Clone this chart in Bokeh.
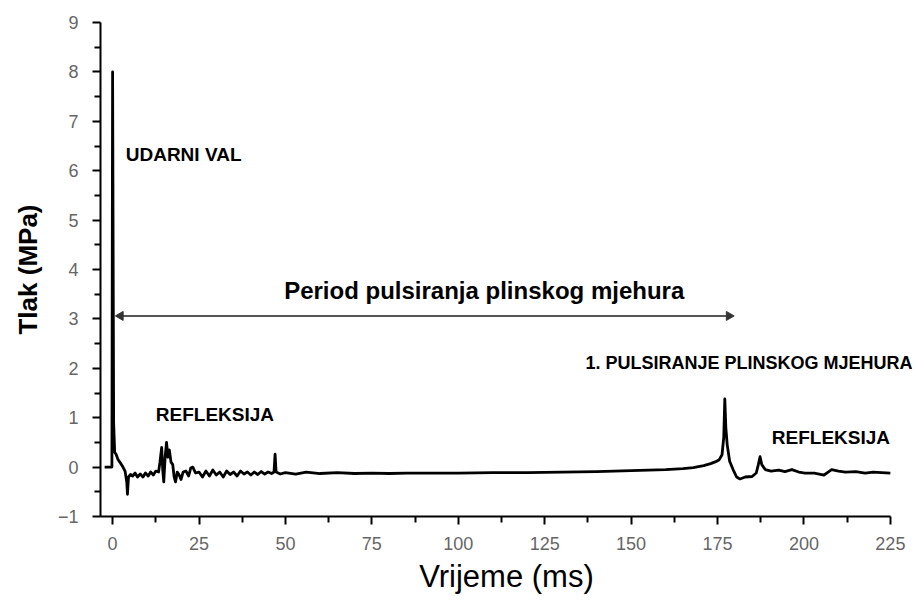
import math
from bokeh.plotting import figure
from bokeh.models import Label, Range1d, FixedTicker, ColumnDataSource
from bokeh.embed import file_html
from bokeh.resources import INLINE

# --- data ---
time_ms = [-2.3, -0.2, 0.0, 0.3, 0.6, 1.0, 1.6, 2.3, 3.0, 3.6, 4.1, 4.3, 4.6, 5.2, 5.8, 6.5,
           7.2, 8.0, 8.8, 9.5, 10.3, 11.0, 11.8, 12.5, 13.3, 13.7, 14.2, 14.5, 14.8, 15.2,
           15.6, 16.0, 16.4, 16.9, 17.4, 17.8, 18.2, 18.7, 19.2, 19.8, 20.4, 21.2, 22.0,
           22.6, 23.2, 24.0, 25.0, 26.0, 27.0, 28.0, 29.0, 30.0, 31.0, 32.0, 33.0, 34.0,
           35.0, 36.0, 37.0, 38.0, 39.0, 40.0, 41.0, 42.0, 43.0, 44.0, 45.0, 46.0, 46.7,
           47.0, 47.3, 48.5, 50.0, 53.0, 56.0, 60.0, 65.0, 70.0, 75.0, 80.0, 85.0, 90.0,
           100.0, 110.0, 120.0, 130.0, 140.0, 150.0, 155.0, 160.0, 165.0, 168.0, 171.0,
           173.0, 174.5, 175.5, 176.3, 176.8, 177.1, 177.4, 177.8, 178.5, 179.5, 180.5,
           181.5, 183.0, 185.0, 186.2, 186.8, 187.3, 187.8, 188.8, 190.5, 192.7, 194.5,
           196.5, 198.5, 200.3, 203.0, 205.8, 207.0, 208.0, 210.0, 212.0, 215.0, 217.7,
           220.0, 222.5, 225.0]
pressure_mpa = [0.0, 0.0, 8.0, 0.9, 0.3, 0.26, 0.15, 0.08, 0.0, -0.08, -0.3, -0.55, -0.2,
                -0.15, -0.18, -0.12, -0.2, -0.14, -0.2, -0.12, -0.18, -0.1, -0.16, -0.08,
                -0.1, 0.1, 0.4, -0.05, -0.3, 0.2, 0.5, 0.2, 0.35, 0.1, 0.05, -0.2, -0.3,
                -0.1, -0.15, -0.25, -0.1, -0.08, -0.18, -0.02, 0.0, -0.12, -0.1, -0.2,
                -0.08, -0.18, -0.06, -0.16, -0.1, -0.2, -0.08, -0.15, -0.1, -0.18, -0.08,
                -0.14, -0.1, -0.16, -0.1, -0.15, -0.09, -0.14, -0.1, -0.13, -0.1, 0.26,
                -0.1, -0.14, -0.11, -0.14, -0.1, -0.13, -0.11, -0.13, -0.12, -0.13, -0.12,
                -0.12, -0.12, -0.11, -0.11, -0.1, -0.09, -0.07, -0.06, -0.05, -0.03, -0.01,
                0.03, 0.07, 0.11, 0.15, 0.25, 0.6, 1.38, 0.8, 0.45, 0.12, -0.05, -0.2,
                -0.24, -0.2, -0.19, -0.12, 0.05, 0.21, 0.05, -0.05, -0.08, -0.06, -0.09,
                -0.05, -0.1, -0.12, -0.12, -0.16, -0.1, -0.05, -0.08, -0.1, -0.09, -0.12,
                -0.1, -0.11, -0.12]

x_ticks = [0, 25, 50, 75, 100, 125, 150, 175, 200, 225]
y_ticks = [-1, 0, 1, 2, 3, 4, 5, 6, 7, 8, 9]

period_start_ms = 2.3
period_end_ms = 178.3
period_level = 3.06

labels = [
    ("UDARNI VAL", 3.8, 6.12, 19),
    ("REFLEKSIJA", 12.5, 0.85, 19),
    ("1. PULSIRANJE PLINSKOG MJEHURA", 136.8, 1.9, 18),
    ("REFLEKSIJA", 190.7, 0.38, 19),
]
period_label = ("Period pulsiranja plinskog mjehura", 107.5, 3.3)

# --- figure ---
p = figure(width=914, height=600, output_backend="svg", toolbar_location=None,
           x_range=Range1d(-3.5, 231.4), y_range=Range1d(-1, 9),
           min_border_left=100, min_border_right=2, min_border_top=22, min_border_bottom=84)
p.outline_line_color = None
p.grid.grid_line_color = None

src = ColumnDataSource(dict(t=time_ms, v=pressure_mpa))
p.line("t", "v", source=src, line_color="black", line_width=2.8, line_join="round")

# double-headed arrow for the period (segment + two triangle heads)
p.segment(x0=[period_start_ms], y0=[period_level], x1=[period_end_ms], y1=[period_level],
          line_color="#555555", line_width=2)
p.scatter(x=[period_start_ms, period_end_ms], y=[period_level, period_level],
          marker="triangle", angle=[math.pi / 2, -math.pi / 2], size=9,
          fill_color="#333333", line_color="#333333")

p.xaxis.axis_line_color = "black"
p.yaxis.axis_line_color = "black"
p.xaxis.axis_line_width = 2
p.yaxis.axis_line_width = 2
p.axis.major_tick_line_color = "black"
p.axis.major_tick_line_width = 2
p.axis.minor_tick_line_color = "black"
p.axis.minor_tick_line_width = 2
p.axis.major_tick_in = 0
p.axis.major_tick_out = 8
p.axis.minor_tick_in = 0
p.axis.minor_tick_out = 6
p.axis.major_label_text_color = "#666666"
p.axis.major_label_text_font_size = "18px"

p.xaxis.bounds = (-4.5, 225)
p.xaxis.ticker = FixedTicker(ticks=x_ticks, minor_ticks=[12.5 + 25 * i for i in range(9)])
p.yaxis.ticker = FixedTicker(ticks=y_ticks, minor_ticks=[-0.5 + i for i in range(10)])
p.xaxis.major_label_standoff = 12
p.yaxis.major_label_standoff = 14

p.yaxis.axis_label = "Tlak (MPa)"
p.yaxis.axis_label_text_font_style = "bold"
p.yaxis.axis_label_text_font_size = "26px"
p.yaxis.axis_label_text_color = "black"
p.yaxis.axis_label_standoff = 12

p.xaxis.axis_label = "Vrijeme (ms)"
p.xaxis.axis_label_text_font_style = "normal"
p.xaxis.axis_label_text_font_size = "31px"
p.xaxis.axis_label_text_color = "black"
p.xaxis.axis_label_standoff = 6

for txt, x, y, fs in labels:
    p.add_layout(Label(x=x, y=y, text=txt, text_font_style="bold",
                       text_font_size=f"{fs}px", text_color="black"))

p.add_layout(Label(x=period_label[1], y=period_label[2], text=period_label[0],
                   text_font_style="bold", text_font_size="24px", text_color="black",
                   text_align="center"))

open("out.html", "w").write(file_html(p, INLINE))
